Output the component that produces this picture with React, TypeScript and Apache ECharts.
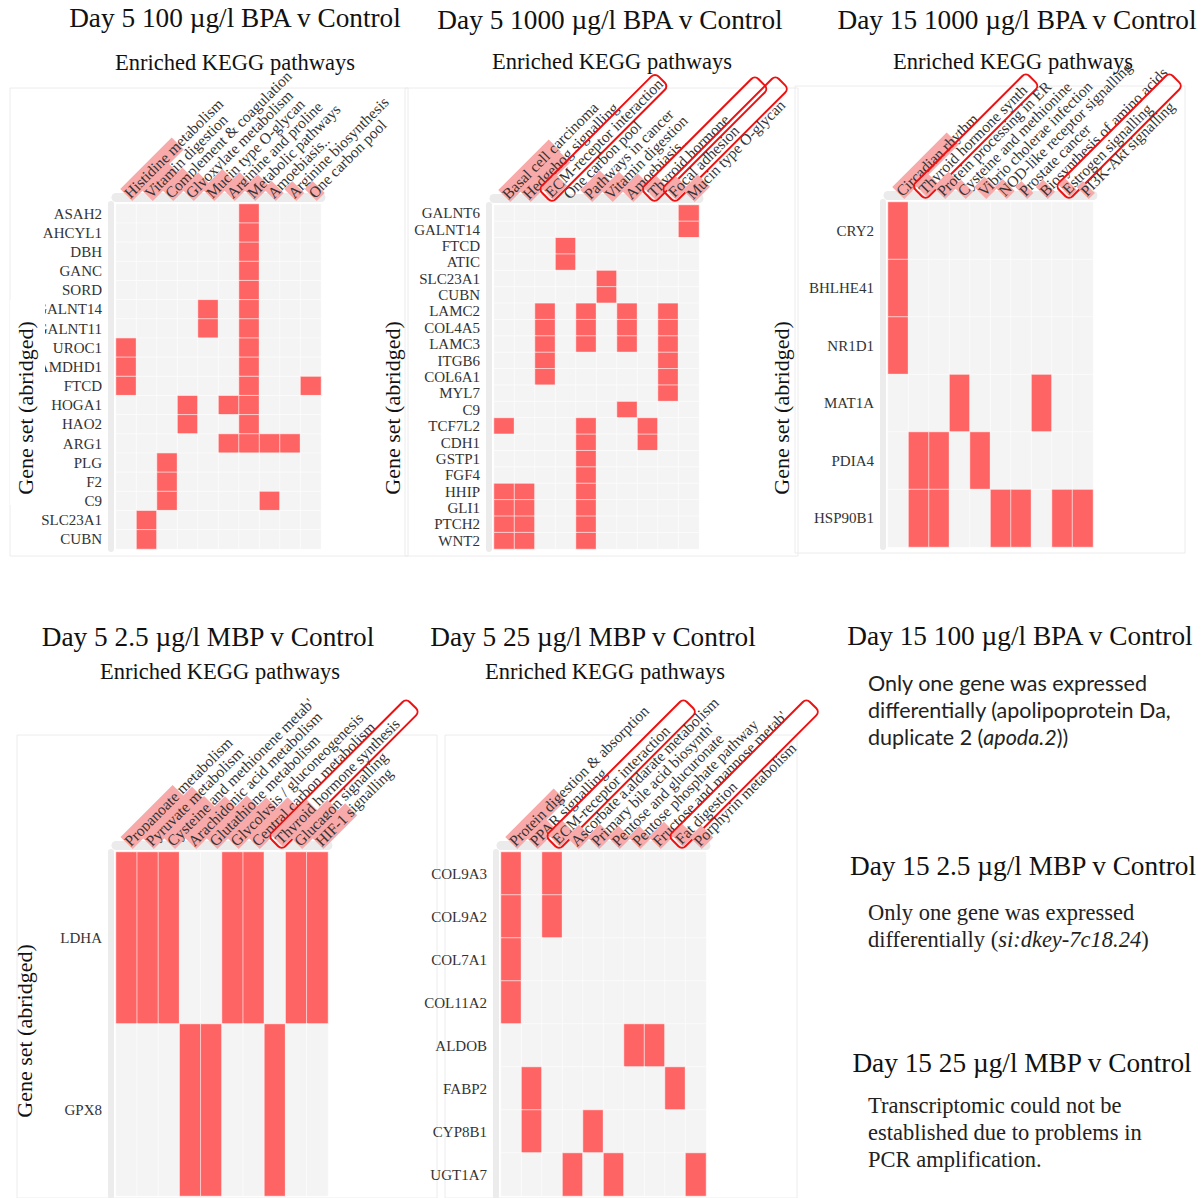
import React, { useEffect, useRef } from 'react';
import * as echarts from 'echarts';

// ---------- Panel 1: Day 5 100 µg/l BPA v Control ----------
const p1Pathways = ['Histidine metabolism', 'Vitamin digestion', 'Complement & coagulation', 'Glyoxylate metabolism', 'Mucin type O-glycan', 'Arginine and proline', 'Metabolic pathways', 'Amoebiasis..', 'Arginine biosynthesis', 'One carbon pool'];
const p1Genes = ['ASAH2', 'AHCYL1', 'DBH', 'GANC', 'SORD', 'GALNT14', 'GALNT11', 'UROC1', 'AMDHD1', 'FTCD', 'HOGA1', 'HAO2', 'ARG1', 'PLG', 'F2', 'C9', 'SLC23A1', 'CUBN'];
const p1Hits = [[6], [6], [6], [6], [6], [4, 6], [4, 6], [0, 6], [0, 6], [0, 6, 9], [3, 5, 6], [3, 6], [5, 6, 7, 8], [2], [2], [2, 7], [1], [1]];

// ---------- Panel 2: Day 5 1000 µg/l BPA v Control ----------
const p2Pathways = ['Basal cell carcinoma', 'Hedgehog signalling', 'ECM-receptor interaction', 'One carbon pool', 'Pathways in cancer', 'Vitamin digestion', 'Amoebiasis..', 'Thyroid hormone', 'Focal adhesion', 'Mucin type O-glycan'];
const p2Genes = ['GALNT6', 'GALNT14', 'FTCD', 'ATIC', 'SLC23A1', 'CUBN', 'LAMC2', 'COL4A5', 'LAMC3', 'ITGB6', 'COL6A1', 'MYL7', 'C9', 'TCF7L2', 'CDH1', 'GSTP1', 'FGF4', 'HHIP', 'GLI1', 'PTCH2', 'WNT2'];
const p2Hits = [[9], [9], [3], [3], [5], [5], [2, 4, 6, 8], [2, 4, 6, 8], [2, 4, 6, 8], [2, 8], [2, 8], [8], [6], [0, 4, 7], [4, 7], [4], [4], [0, 1, 4], [0, 1, 4], [0, 1, 4], [0, 1, 4]];

// ---------- Panel 3: Day 15 1000 µg/l BPA v Control ----------
const p3Pathways = ['Circadian rhythm', 'Thyroid hormone synth', 'Protein processing in ER', 'Cysteine and methionine', 'Vibrio cholerae infection', 'NOD-like receptor signalling', 'Prostate cancer', 'Biosynthesis of amino acids', 'Estrogen signalling', 'PI3K-Akt signalling'];
const p3Genes = ['CRY2', 'BHLHE41', 'NR1D1', 'MAT1A', 'PDIA4', 'HSP90B1'];
const p3Hits = [[0], [0], [0], [3, 7], [1, 2, 4], [1, 2, 5, 6, 8, 9]];

// ---------- Panel 4: Day 5 2.5 µg/l MBP v Control ----------
const p4Pathways = ['Propanoate metabolism', 'Pyruvate metabolism', "Cysteine and methionene metab'", 'Arachidonic acid metabolism', 'Glutathione metabolism', 'Glycolysis / gluconeogenesis', 'Central carbon metabolism', 'Thyroid hormone synthesis', 'Glucagon signalling', 'HIF-1 signalling'];
const p4Genes = ['LDHA', 'GPX8'];
const p4Hits = [[0, 1, 2, 5, 6, 8, 9], [3, 4, 7]];

// ---------- Panel 5: Day 5 25 µg/l MBP v Control ----------
const p5Pathways = ['Protein digestion & absorption', 'PPAR signalling', 'ECM-receptor interaction', 'Ascorbate a.aldarate metabolism', "Primary bile acid biosynth'", 'Pentose and glucuronate', 'Pentose phosphate pathway', "Fructose and mannose metab'", 'Fat digestion', 'Porphyrin metabolism'];
const p5Genes = ['COL9A3', 'COL9A2', 'COL7A1', 'COL11A2', 'ALDOB', 'FABP2', 'CYP8B1', 'UGT1A7'];
const p5Hits = [[0, 2], [0, 2], [0], [0], [6, 7], [1, 8], [1, 4], [3, 5, 9]];

// highlighted pathways (red outlines) and pink header highlight lengths (characters)
const p1Boxed: number[] = [];
const p2Boxed = [2, 7, 8];
const p3Boxed = [1, 8];
const p4Boxed = [7];
const p5Boxed = [2, 8];
const p1Hl = [11, 5, 3, 3, 3, 3, 2, 1, 1, 1];
const p2Hl = [12, 7, 2, 0, 4, 4, 2, 2, 2, 2];
const p3Hl = [12, 2, 3, 1, 2, 1, 1, 1, 1, 1];
const p4Hl = [11, 10, 9, 8, 9, 8, 9, 7, 7, 7];
const p5Hl = [11, 3, 2, 2, 3, 2, 2, 3, 2, 2];

const SERIF = '"Liberation Serif", "Times New Roman", serif';
const LABEL_SIZE = 15.5;
const GENE_SIZE = 15;

const panels = [
  { genes: p1Genes, pathways: p1Pathways, hits: p1Hits, boxed: p1Boxed, hl: p1Hl, grid: { left: 116, top: 204, width: 205, height: 345 }, boxLen: 162 },
  { genes: p2Genes, pathways: p2Pathways, hits: p2Hits, boxed: p2Boxed, hl: p2Hl, grid: { left: 494, top: 205, width: 205, height: 344 }, boxLen: 162 },
  { genes: p3Genes, pathways: p3Pathways, hits: p3Hits, boxed: p3Boxed, hl: p3Hl, grid: { left: 888, top: 202, width: 205, height: 345 }, boxLen: 162 },
  { genes: p4Genes, pathways: p4Pathways, hits: p4Hits, boxed: p4Boxed, hl: p4Hl, grid: { left: 116, top: 852, width: 212, height: 344 }, boxLen: 196 },
  { genes: p5Genes, pathways: p5Pathways, hits: p5Hits, boxed: p5Boxed, hl: p5Hl, grid: { left: 501, top: 852, width: 205, height: 344 }, boxLen: 196 },
];

function measure(text: string, size: number): number {
  const c = document.createElement('canvas').getContext('2d');
  if (!c) return text.length * size * 0.45;
  c.font = `${size}px "Liberation Serif"`;
  return c.measureText(text).width;
}

export default function App() {
  const ref = useRef<HTMLDivElement>(null);
  useEffect(() => {
    if (!ref.current) return;
    const chart = echarts.init(ref.current, null, { renderer: 'svg' });

    const grids: any[] = [];
    const xAxes: any[] = [];
    const yAxes: any[] = [];
    const series: any[] = [];

    panels.forEach((p, i) => {
      grids.push({ ...p.grid, containLabel: false });
      const hlMap: Record<string, number> = {};
      p.pathways.forEach((name, k) => (hlMap[name] = p.hl[k]));
      xAxes.push({
        gridIndex: i,
        type: 'category',
        position: 'top',
        offset: 7,
        data: p.pathways.map((name, k) => {
          if (p.boxed.indexOf(k) < 0) return name;
          const w = measure(name, LABEL_SIZE);
          const padR = Math.max(2, p.boxLen - w - 4);
          return {
            value: name,
            textStyle: {
              borderColor: '#ee1111',
              borderWidth: 2,
              borderRadius: 5,
              padding: [1, padR, 1, 3],
            },
          };
        }),
        axisLine: { show: true, lineStyle: { color: '#ebebeb', width: 9 } },
        axisTick: { show: false },
        splitLine: { show: false },
        axisLabel: {
          rotate: -45,
          interval: 0,
          margin: 2,
          fontFamily: SERIF,
          fontSize: LABEL_SIZE,
          color: '#333',
          formatter: (v: string) => {
            const n = hlMap[v] || 0;
            if (n <= 0) return v;
            return `{hl|${v.slice(0, n)}}${v.slice(n)}`;
          },
          rich: {
            hl: {
              backgroundColor: '#f8a9a9',
              fontFamily: SERIF,
              fontSize: LABEL_SIZE,
              color: '#333',
              lineHeight: 17,
              padding: [1, 0, 0, 0],
            },
          },
        },
      });
      yAxes.push({
        gridIndex: i,
        type: 'category',
        inverse: true,
        offset: 5,
        data: p.genes,
        axisLine: { show: true, lineStyle: { color: '#ececec', width: 6 } },
        axisTick: { show: false },
        splitLine: { show: false },
        axisLabel: { interval: 0, margin: 9, fontFamily: SERIF, fontSize: GENE_SIZE, color: '#333' },
      });
      const data: number[][] = [];
      p.genes.forEach((g, gy) => {
        p.pathways.forEach((_, px) => {
          data.push([px, gy, p.hits[gy].indexOf(px) >= 0 ? 1 : 0]);
        });
      });
      series.push({
        type: 'heatmap',
        xAxisIndex: i,
        yAxisIndex: i,
        data,
        itemStyle: { borderColor: 'rgba(255,255,255,0.6)', borderWidth: 1 },
        emphasis: { disabled: true },
      });
    });

    const title = (text: string, x: number, y: number, size = 27.3) => ({
      type: 'text', x, y, z: 60,
      style: { text, fontFamily: SERIF, fontSize: size, fill: '#111', align: 'center', textAlign: 'center', verticalAlign: 'middle', textVerticalAlign: 'middle' },
    });
    const sub = (x: number, y: number) => title('Enriched KEGG pathways', x, y, 22.5);
    const ylab = (x: number, y: number) => ({
      type: 'text', x, y, rotation: Math.PI / 2, z: 60,
      style: { text: 'Gene set (abridged)', fontFamily: SERIF, fontSize: 22, fill: '#111', align: 'center', textAlign: 'center', verticalAlign: 'middle', textVerticalAlign: 'middle' },
    });
    const frame = (x: number, y: number, w: number, h: number) => ({
      type: 'rect', shape: { x, y, width: w, height: h }, z: -1, silent: true,
      style: { fill: 'none', stroke: '#ececec', lineWidth: 1 },
    });
    const para = (text: string, x: number, y: number, family: string, size: number, rich: any) => ({
      type: 'text', x, y, z: 60,
      style: { text, fontFamily: family, fontSize: size, lineHeight: 27, fill: '#222', align: 'left', textAlign: 'left', verticalAlign: 'top', textVerticalAlign: 'top', rich },
    });

    const SANS = 'Lato, "Liberation Sans", sans-serif';

    const graphics: any[] = [
      frame(10, 88, 398, 468),
      frame(405, 88, 393, 468),
      frame(795, 86, 390, 467),
      frame(17, 735, 420, 463),
      frame(445, 735, 352, 463),
      { type: 'rect', shape: { x: 10, y: 300, width: 35, height: 205 }, z: 55, silent: true, style: { fill: '#fff' } },
      title('Day 5 100 µg/l BPA v Control', 235, 18),
      sub(235, 62),
      title('Day 5 1000 µg/l BPA v Control', 610, 20),
      sub(612, 61),
      title('Day 15 1000 µg/l BPA v Control', 1017, 20),
      sub(1013, 61),
      title('Day 5 2.5 µg/l MBP v Control', 208, 637),
      sub(220, 671),
      title('Day 5 25 µg/l MBP v Control', 593, 637),
      sub(605, 671),
      title('Day 15 100 µg/l BPA v Control', 1020, 636),
      title('Day 15 2.5 µg/l MBP v Control', 1023, 866),
      title('Day 15 25 µg/l MBP v Control', 1022, 1063),
      ylab(25, 408),
      ylab(392, 408),
      ylab(781, 408),
      ylab(24, 1031),
      para('Only one gene was expressed\ndifferentially (apolipoprotein Da,\nduplicate 2 ({i|apoda.2}))', 868, 669, SANS, 21.5,
        { i: { fontFamily: SANS, fontSize: 21.5, fontStyle: 'italic', fill: '#222', lineHeight: 27 } }),
      para('Only one gene was expressed\ndifferentially ({i|si:dkey-7c18.24})', 868, 899, SERIF, 22.5,
        { i: { fontFamily: SERIF, fontSize: 22.5, fontStyle: 'italic', fill: '#222', lineHeight: 27 } }),
      para('Transcriptomic could not be\nestablished due to problems in\nPCR amplification.', 868, 1092, SERIF, 22.5, {}),
    ];

    chart.setOption({
      animation: false,
      backgroundColor: '#fff',
      grid: grids,
      xAxis: xAxes,
      yAxis: yAxes,
      visualMap: {
        type: 'piecewise',
        show: false,
        dimension: 2,
        seriesIndex: [0, 1, 2, 3, 4],
        pieces: [
          { value: 0, color: '#f4f4f4' },
          { value: 1, color: '#ff6464' },
        ],
      },
      series,
      graphic: { elements: graphics },
    });
    return () => chart.dispose();
  }, []);
  return <div ref={ref} style={{ position: 'absolute', left: 0, top: 0, width: 1201, height: 1198, background: '#fff' }} />;
}
